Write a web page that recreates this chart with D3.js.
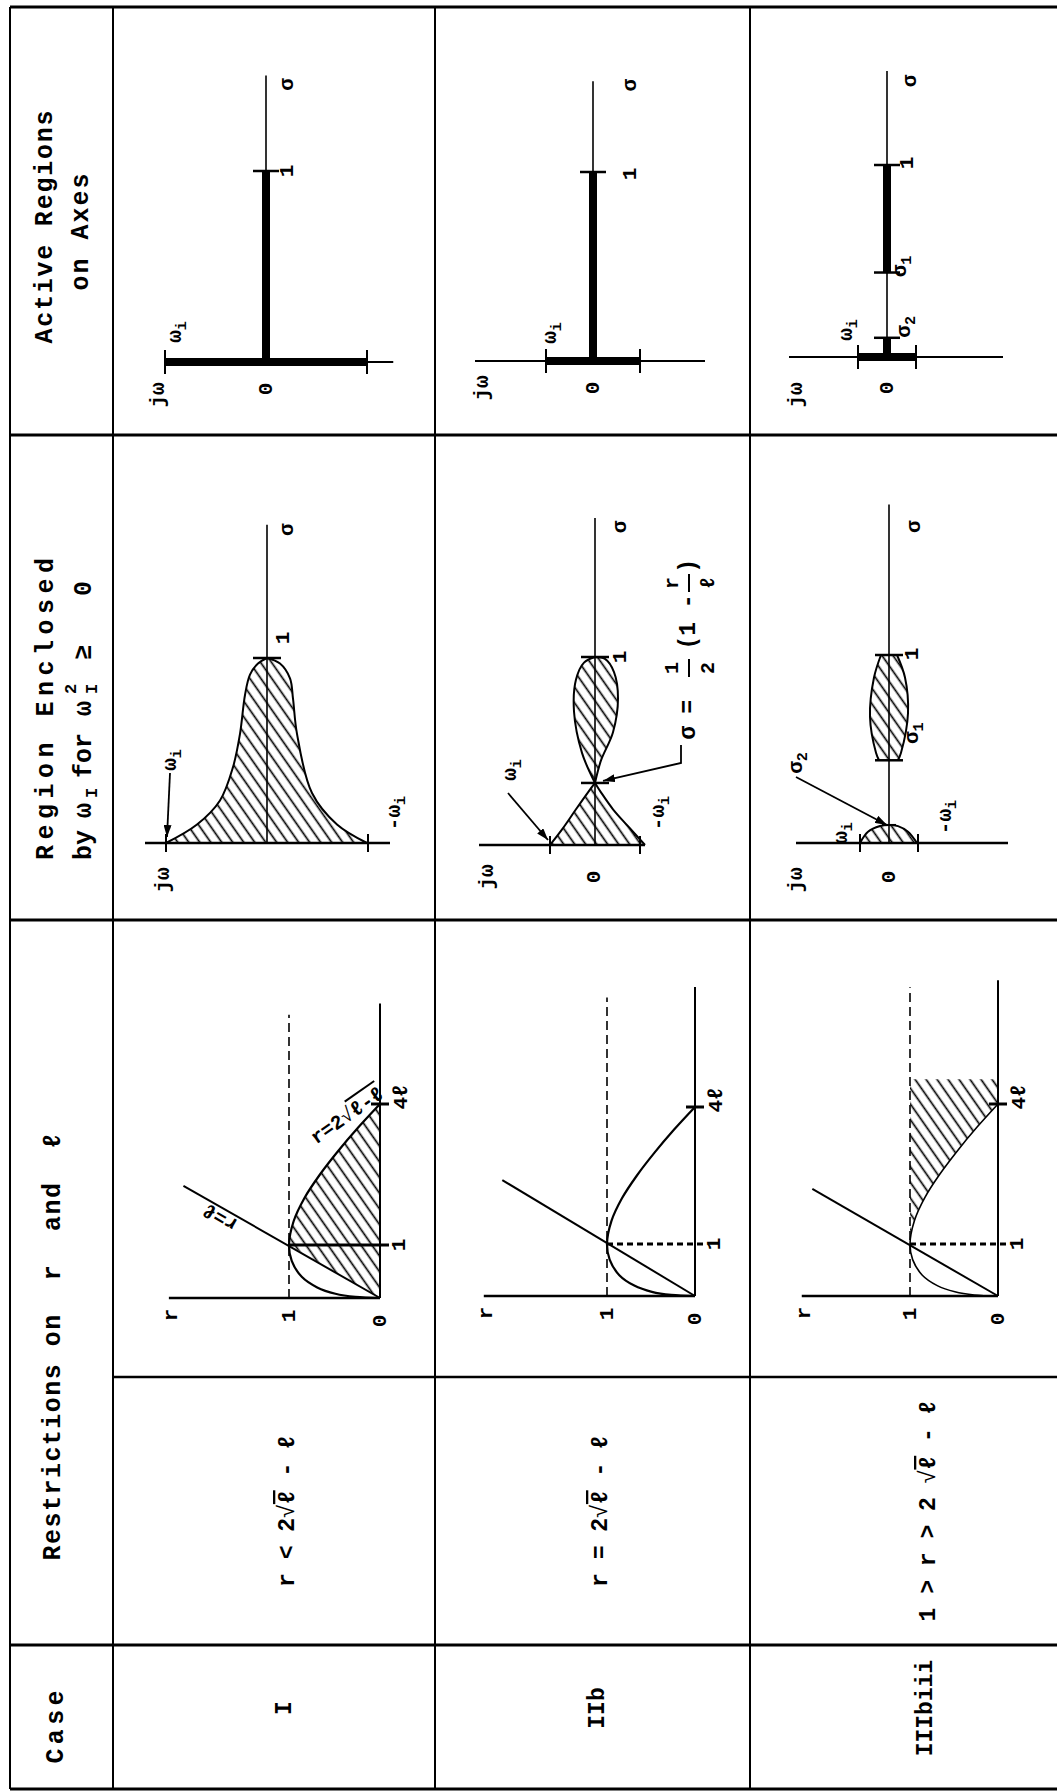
<!DOCTYPE html>
<html>
<head>
<meta charset="utf-8">
<script src="https://cdn.jsdelivr.net/npm/d3@7"></script>
<style>
  body { margin: 0; background: #fff; }
  svg text {
    font-family: "Liberation Mono", "DejaVu Sans Mono", monospace;
    font-weight: bold;
    fill: #000;
    white-space: pre;
  }
</style>
</head>
<body>
<svg id="chart"></svg>
<script>
const cases = ["I", "IIb", "IIIbiii"];
const restrictions = [
  ["r < 2", "ℓ", " - ℓ"],
  ["r = 2", "ℓ", " - ℓ"],
  ["1 > r > 2 ", "ℓ", " - ℓ"],
];

// active regions (sigma along the real axis, omega_i on the jw axis)
const omegaI = [1.0, 0.47, 0.29];
const activeSigma = [[[0, 1]], [[0, 1]], [[0, 0.1], [0.44, 1]]];
const sigmaTicks = [[1], [1], [0.1, 0.44, 1]];

// region enclosed, boundary points [sigma, omega]
const bellLeft = [[0, 1.01], [0.1, 0.7], [0.23, 0.47], [0.41, 0.34], [0.59, 0.27], [0.8, 0.22], [0.91, 0.17], [0.97, 0.09], [1, 0]];
const bellRight = [[1, 0], [0.97, -0.13], [0.89, -0.23], [0.78, -0.26], [0.59, -0.3], [0.27, -0.45], [0.1, -0.7], [0, -1.0]];
const waistLeft = [[0, 0.45], [0.09, 0.32], [0.19, 0.19], [0.28, 0.07], [0.33, 0]];
const waistRight = [[0.33, 0], [0.28, -0.06], [0.19, -0.18], [0.1, -0.33], [0, -0.5]];
const loopLeft = [[0.33, 0], [0.49, 0.13], [0.71, 0.21], [0.88, 0.19], [0.97, 0.11], [1, 0]];
const loopRight = [[1, 0], [0.99, -0.1], [0.92, -0.19], [0.78, -0.23], [0.6, -0.18], [0.45, -0.06], [0.33, 0]];
const bump = [[0, 0.29], [0.06, 0.21], [0.09, 0.09], [0.096, 0], [0.09, -0.09], [0.06, -0.19], [0, -0.28]];
const lensLeft = [[0.44, 0.1], [0.48, 0.13], [0.67, 0.19], [0.88, 0.15], [1, 0.08]];
const lensRight = [[1, -0.08], [0.88, -0.16], [0.69, -0.19], [0.48, -0.12], [0.44, -0.09]];
const regionTicks = [[1], [0.33, 1], [0.44, 1]];
const regionOmega = [1.01, 0.45, 0.29];

// r - l plane
const curveEll = [0, 0.02, 0.08, 0.2, 0.4, 0.7, 1, 1.5, 2, 2.5, 3, 3.5, 4];
const curveR = [0, 0.27, 0.49, 0.69, 0.86, 0.97, 1, 0.95, 0.83, 0.66, 0.46, 0.24, 0];
const diagEnd = [[2.26, 2.16], [2.4, 2.19], [2.18, 2.11]];
const hatchTopEll = 4.53;

// ---- layout ----
const width = 1057;
const height = 1791;
const gridX = [10, 113, 435, 750];
const gridY = [7, 435, 920, 1645, 1789];
const graphSplit = 1377;

const activeLayout = [
  { ox: 266, oy: 362, su: 191, wu: 101, sTop: 1.5, wMin: -1.26, wMax: 1.0 },
  { ox: 593, oy: 361, su: 189, wu: 100, sTop: 1.48, wMin: -1.12, wMax: 1.18 },
  { ox: 887, oy: 357, su: 192, wu: 100, sTop: 1.49, wMin: -1.16, wMax: 0.98 },
];
const regionLayout = [
  { ox: 267, oy: 843, su: 185, wu: 100, sTop: 1.72, wMin: -1.23, wMax: 1.22 },
  { ox: 595, oy: 845, su: 188, wu: 100, sTop: 1.74, wMin: -0.5, wMax: 1.16 },
  { ox: 889, oy: 843, su: 188, wu: 100, sTop: 1.8, wMin: -1.19, wMax: 0.93 },
];
const rlLayout = [
  { ox: 380, ys: [1298, 1245, 1104], ru: 91, rMax: 2.32, lTop: 6.14, dashTop: 5.9 },
  { ox: 695, ys: [1296, 1244, 1107], ru: 88, rMax: 2.4, lTop: 6.63, dashTop: 6.4 },
  { ox: 998, ys: [1296, 1244, 1104], ru: 88, rMax: 2.23, lTop: 6.65, dashTop: 6.5 },
];

// labels: [text, sigma, omega, dx, dy]
const activeLabels = [
  [["σ", 1.5, 0, 21, 9], ["1", 1, 0, 21, 0], ["0", 0, 0, 0, 27], ["jω", 0, 1.0, -7, 33], ["ω_i", 0, 1.0, 10, -30]],
  [["σ", 1.48, 0, 37, 4], ["1", 1, 0, 37, 2], ["0", 0, 0, 0, 27], ["jω", 0, 1.18, 7, 27], ["ω_i", 0, 0.47, 4, -28]],
  [["σ", 1.49, 0, 23, 10], ["1", 1, 0, 20, -2], ["σ_1", 0.44, 0, 13, -6], ["σ_2", 0.1, 0, 17, -11],
   ["ω_i", 0, 0.29, -12, -27], ["jω", 0, 0.98, 7, 38], ["0", 0, 0, 0, 31]],
];
const regionLabels = [
  [["σ", 1.72, 0, 20, 5], ["1", 1, 0, 16, -20], ["ω_i", 0, 1.01, 4, -83], ["-ω_i", 0, -1.0, 27, -30], ["jω", 0, 1.01, -3, 37]],
  [["σ", 1.74, 0, 25, 9], ["1", 1, 0, 25, 0], ["0", 0, 0, -1, 32], ["jω", 0, 1.16, 8, 32],
   ["ω_i", 0, 0.45, -40, -75], ["-ω_i", 0, -0.5, 13, -32]],
  [["σ", 1.8, 0, 25, 22], ["1", 1, 0, 23, -1], ["σ_1", 0.44, 0, 23, -27], ["σ_2", 0, 0.93, 0, -80],
   ["ω_i", 0, 0.29, -19, -10], ["-ω_i", 0, -0.28, 28, -26], ["jω", 0, 0.93, 0, 37], ["0", 0, 0, 0, 34]],
];
const regionArrows = [
  [[0, 1.01, 4, -70], [0, 1.01, 1, -6]],
  [[0, 0.45, -42, -52], [0, 0.45, -2, -5]],
  [[0, 0.93, 0, -66], [0.096, 0.02, 0, 0]],
];

const svg = d3.select("#chart").attr("width", width).attr("height", height);

const defs = svg.append("defs");
defs.append("pattern")
  .attr("id", "hatch")
  .attr("patternUnits", "userSpaceOnUse")
  .attr("width", 9)
  .attr("height", 9)
  .attr("patternTransform", "rotate(-35)")
  .append("line")
  .attr("x1", 4.5).attr("y1", 0).attr("x2", 4.5).attr("y2", 9)
  .attr("stroke", "#000").attr("stroke-width", 1.7);
defs.append("marker")
  .attr("id", "arrow")
  .attr("markerUnits", "userSpaceOnUse")
  .attr("markerWidth", 12).attr("markerHeight", 8)
  .attr("refX", 12).attr("refY", 4)
  .attr("orient", "auto")
  .append("path").attr("d", "M0,0 L12,4 L0,8 Z").attr("fill", "#000");

const line = (g, x1, y1, x2, y2, w) =>
  g.append("line")
    .attr("x1", x1).attr("y1", y1).attr("x2", x2).attr("y2", y2)
    .attr("stroke", "#000").attr("stroke-width", w);

// rotated text, reads bottom to top
const vtext = (g, x, y, str, size) => {
  const t = g.append("text")
    .attr("transform", `translate(${x},${y}) rotate(-90)`)
    .attr("text-anchor", "middle")
    .attr("dominant-baseline", "central")
    .style("font-size", size + "px");
  const parts = str.split("_");
  t.append("tspan").text(parts[0]);
  if (parts[1]) {
    t.append("tspan").attr("dy", size * 0.35).style("font-size", size * 0.72 + "px").text(parts[1]);
  }
  return t;
};

// ---- table grid ----
const grid = svg.append("g");
gridY.forEach((y) => line(grid, gridX[0], y, width, y, 3));
line(grid, gridX[1], graphSplit, width, graphSplit, 2.5);
gridX.forEach((x) => line(grid, x, gridY[0], x, gridY[4], 2));

// ---- header column ----
const head = svg.append("g");
vtext(head, 45, 227, "Active Regions", 25).attr("textLength", 233).attr("lengthAdjust", "spacing");
vtext(head, 81, 232, "on Axes", 25).attr("textLength", 117).attr("lengthAdjust", "spacing");
vtext(head, 46, 709, "Region Enclosed", 25).attr("textLength", 302).attr("lengthAdjust", "spacing");
vtext(head, 53, 1347, "Restrictions on  r  and  ℓ", 25).attr("textLength", 427).attr("lengthAdjust", "spacing");
vtext(head, 56, 1727, "Case", 25).attr("textLength", 73).attr("lengthAdjust", "spacing");

const byLine = head.append("g").attr("transform", "translate(84,860) rotate(-90)");
const bySpec = [
  ["by", 0, 0, 25], ["ω", 42, 0, 25], ["I", 62, 8, 17], ["for", 82, 0, 25],
  ["ω", 144, 0, 25], ["2", 166, -13, 17], ["I", 166, 8, 17], ["≥", 200, 0, 25], ["0", 264, 0, 25],
];
bySpec.forEach(([s, x, y, size]) => {
  byLine.append("text")
    .attr("x", x).attr("y", y)
    .attr("dominant-baseline", "central")
    .style("font-size", size + "px")
    .text(s);
});

// ---- case and restriction cells ----
const cellCenters = [285, 598, 926];
cases.forEach((c, i) => {
  vtext(svg, cellCenters[i], 1708, c, 23);
  const t = svg.append("text")
    .attr("transform", `translate(${cellCenters[i] + 3},1511) rotate(-90)`)
    .attr("text-anchor", "middle")
    .attr("dominant-baseline", "central")
    .style("font-size", "23px");
  const [a, b, c2] = restrictions[i];
  t.append("tspan").text(a);
  t.append("tspan").style("font-weight", "normal").text("√");
  t.append("tspan").style("text-decoration", "overline").text(b);
  t.append("tspan").text(c2);
});

// ---- active regions on axes ----
activeLayout.forEach((p, i) => {
  const y = d3.scaleLinear().domain([0, 1]).range([p.oy, p.oy - p.su]);
  const x = d3.scaleLinear().domain([0, 1]).range([p.ox, p.ox - p.wu]);
  const g = svg.append("g");
  line(g, x(p.wMax), y(0), x(p.wMin), y(0), 2);
  line(g, x(0), y(0), x(0), y(p.sTop), 1.6);
  line(g, x(omegaI[i]), y(0), x(-omegaI[i]), y(0), 8);
  [omegaI[i], -omegaI[i]].forEach((w) => line(g, x(w), y(0) - 12, x(w), y(0) + 12, 2));
  activeSigma[i].forEach((seg) => line(g, x(0), y(seg[0]), x(0), y(seg[1]), 8));
  sigmaTicks[i].forEach((s) => line(g, x(0) - 13, y(s), x(0) + 13, y(s), 2.5));
  activeLabels[i].forEach(([txt, s, w, dx, dy]) => vtext(g, x(w) + dx, y(s) + dy, txt, 21));
});

// ---- region enclosed by omega_I ----
const regionShapes = [
  [[bellLeft, bellRight]],
  [[waistLeft, waistRight], [loopLeft, loopRight]],
  [[bump], [lensLeft, lensRight]],
];

regionLayout.forEach((p, i) => {
  const y = d3.scaleLinear().domain([0, 1]).range([p.oy, p.oy - p.su]);
  const x = d3.scaleLinear().domain([0, 1]).range([p.ox, p.ox - p.wu]);
  const g = svg.append("g");
  const edge = d3.line().x((d) => x(d[1])).y((d) => y(d[0])).curve(d3.curveCatmullRom.alpha(0.5));

  regionShapes[i].forEach((sides) => {
    const d = sides.map((s, k) => (k === 0 ? edge(s) : edge(s).replace(/^M/, "L"))).join("") + "Z";
    g.append("path").attr("d", d).attr("fill", "url(#hatch)").attr("stroke", "none");
    sides.forEach((s) => g.append("path").attr("d", edge(s)).attr("fill", "none").attr("stroke", "#000").attr("stroke-width", 2));
  });

  line(g, x(p.wMax), y(0), x(p.wMin), y(0), 2.6);
  line(g, x(0), y(0), x(0), y(p.sTop), 1.6);
  [regionOmega[i], -regionOmega[i]].forEach((w) => line(g, x(w), y(0) - 9, x(w), y(0) + 9, 2));
  regionTicks[i].forEach((s) => line(g, x(0) - 14, y(s), x(0) + 14, y(s), 2.5));
  if (i === 2) line(g, x(0) - 7, y(0.096), x(0) + 7, y(0.096), 2);

  regionLabels[i].forEach(([txt, s, w, dx, dy]) => vtext(g, x(w) + dx, y(s) + dy, txt, 21));

  const [a, b] = regionArrows[i];
  g.append("line")
    .attr("x1", x(a[1]) + a[2]).attr("y1", y(a[0]) + a[3])
    .attr("x2", x(b[1]) + b[2]).attr("y2", y(b[0]) + b[3])
    .attr("stroke", "#000").attr("stroke-width", 1.8)
    .attr("marker-end", "url(#arrow)");

  if (i === 1) {
    // sigma = 1/2 (1 - r/l) at the waist
    const cross = 0.33;
    g.append("path")
      .attr("d", `M${x(0) + 86},${y(cross) - 38} L${x(0) + 86},${y(cross) - 20} L${x(0) + 8},${y(cross) - 2}`)
      .attr("fill", "none").attr("stroke", "#000").attr("stroke-width", 1.8)
      .attr("marker-end", "url(#arrow)");
    const eq = g.append("g").attr("transform", `translate(${x(0) + 94},${y(cross) - 41}) rotate(-90)`);
    const put = (s, tx, ty, size) =>
      eq.append("text").attr("x", tx).attr("y", ty)
        .attr("text-anchor", "middle").attr("dominant-baseline", "central")
        .style("font-size", size + "px").text(s);
    put("σ", 9, 0, 23);
    put("=", 35, 0, 23);
    put("1", 74, -17, 20);
    put("2", 74, 19, 20);
    line(eq, 65, 0, 83, 0, 2);
    put("(1 -", 120, 0, 23);
    put("r", 159, -17, 20);
    put("ℓ", 159, 19, 20);
    line(eq, 150, 0, 168, 0, 2);
    put(")", 176, 0, 23);
  }
});

// ---- restrictions on r and l ----
const curvePts = curveEll.map((l, k) => [l, curveR[k]]);

rlLayout.forEach((p, i) => {
  const ly = d3.scaleLinear().domain([0, 1, 4]).range(p.ys);
  const rx = d3.scaleLinear().domain([0, 1]).range([p.ox, p.ox - p.ru]);
  const g = svg.append("g");
  const path = d3.line().x((d) => rx(d[1])).y((d) => ly(d[0])).curve(d3.curveCatmullRom.alpha(0.5));
  const tail = curvePts.filter((d) => d[0] >= 1);

  if (i === 0) {
    const d = `M${rx(0)},${ly(0)}L${rx(1)},${ly(1)}` + path(tail).replace(/^M/, "L") + "Z";
    g.append("path").attr("d", d).attr("fill", "url(#hatch)");
  }
  if (i === 2) {
    const d = path(tail) + `L${rx(0)},${ly(hatchTopEll)}L${rx(1)},${ly(hatchTopEll)}Z`;
    g.append("path").attr("d", d).attr("fill", "url(#hatch)");
  }

  // axes
  line(g, rx(0), ly(0), rx(p.rMax), ly(0), 2.6);
  line(g, rx(0), ly(0), rx(0), ly(p.lTop), 2);
  // r = 1 dashed
  line(g, rx(1), ly(0), rx(1), ly(p.dashTop), 1.6).attr("stroke-dasharray", "9,5");
  // l = 1
  const l1 = line(g, rx(1), ly(1), rx(0) + 9, ly(1), 3);
  if (i > 0) l1.attr("stroke-dasharray", "6,4");
  // tick at l = 4
  line(g, rx(0) - 9, ly(4), rx(0) + 9, ly(4), 3);
  // r = l
  line(g, rx(0), ly(0), rx(diagEnd[i][1]), ly(diagEnd[i][0]), 2);
  // r = 2 sqrt(l) - l
  g.append("path").attr("d", path(curvePts)).attr("fill", "none")
    .attr("stroke", "#000").attr("stroke-width", i === 2 ? 1.6 : 2.2);

  vtext(g, rx(p.rMax) + 2, ly(0) + 17, "r", 21);
  vtext(g, rx(1), ly(0) + 18, "1", 21);
  vtext(g, rx(0), ly(0) + 23, "0", 21);
  vtext(g, rx(0) + 19, ly(1), "1", 21);
  vtext(g, rx(0) + 21, ly(4) - 7, "4ℓ", 21);

  if (i === 0) {
    g.append("text")
      .attr("transform", `translate(${rx(1.75)},${ly(1.6)}) rotate(-150)`)
      .attr("text-anchor", "middle").attr("dominant-baseline", "central")
      .style("font-size", "20px").text("r=ℓ");
    const lab = g.append("text")
      .attr("transform", `translate(${rx(0.36)},${ly(3.75)}) rotate(-35)`)
      .attr("text-anchor", "middle").attr("dominant-baseline", "central")
      .style("font-size", "20px");
    lab.append("tspan").text("r=2");
    lab.append("tspan").style("font-weight", "normal").text("√");
    lab.append("tspan").style("text-decoration", "overline").text("ℓ-ℓ");
  }
});
</script>
</body>
</html>
